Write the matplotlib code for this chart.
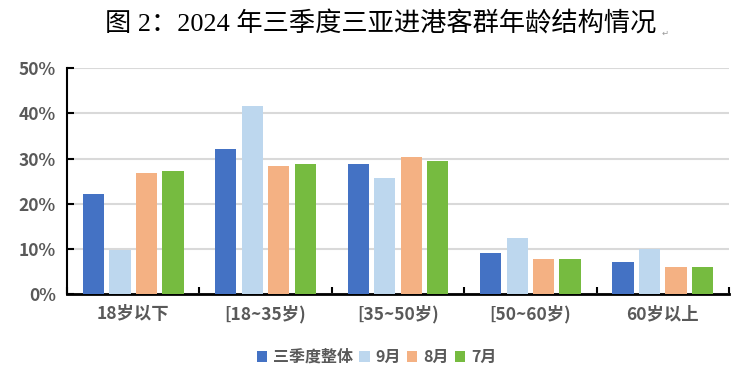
import numpy as np
import matplotlib
matplotlib.use("Agg")
import matplotlib.pyplot as plt
from matplotlib.patches import Patch

plt.rcParams['font.family'] = ['Noto Sans CJK SC', 'DejaVu Sans']

# data (percent)
categories = ["18岁以下", "[18~35岁)", "[35~50岁)", "[50~60岁)", "60岁以上"]
series_names = ["三季度整体", "9月", "8月", "7月"]
q3_total = [22.1, 32.1, 28.8, 9.1, 7.1]
sep = [9.8, 41.6, 25.7, 12.4, 10.0]
aug = [26.8, 28.3, 30.3, 7.8, 6.0]
jul = [27.2, 28.8, 29.4, 7.8, 6.0]
y_ticks = [0, 10, 20, 30, 40, 50]

COLORS = ["#4472C4", "#BDD7EE", "#F4B183", "#76BB40"]
TXT = "#595959"

fig = plt.figure(figsize=(7.53, 3.83), dpi=100)
ax = fig.add_axes([0.089, 0.232, 0.879, 0.590])

x = np.arange(len(categories))
offsets = [-0.3, -0.1, 0.1, 0.3]
for vals, off, col in zip([q3_total, sep, aug, jul], offsets, COLORS):
    ax.bar(x + off, vals, width=0.16, color=col, zorder=3)

ax.set_xlim(-0.5, len(categories) - 0.5)
ax.set_ylim(0, 50)
ax.set_yticks(y_ticks)
ax.set_yticklabels([f"{v}%" for v in y_ticks], fontsize=12.5, fontweight='bold', color=TXT)
ax.yaxis.grid(True, color="#D9D9D9", lw=1.5, zorder=0)
ax.tick_params(axis='y', direction='in', length=5, width=1.5, color='black', pad=8)

ax.set_xticks(x)
ax.set_xticklabels(categories, fontsize=12.5, fontweight='bold', color=TXT)
ax.tick_params(axis='x', length=0, pad=8)
ax.set_xticks(np.arange(-0.5, len(categories)), minor=True)
ax.tick_params(axis='x', which='minor', direction='in', length=5, width=1.5, color='black')

for s in ['top', 'right']:
    ax.spines[s].set_visible(False)
ax.spines['left'].set_linewidth(1.5)
ax.spines['bottom'].set_linewidth(2)

handles = [Patch(facecolor=c, edgecolor='none') for c in COLORS]
fig.legend(handles, series_names, loc='center', bbox_to_anchor=(0.5, 0.068), ncol=4,
           frameon=False, handlelength=0.65, handleheight=0.65, handletextpad=0.35,
           columnspacing=0.4, prop=dict(size=11.5, weight='bold'), labelcolor=TXT)

fig.text(0.505, 0.938, "图 2：2024 年三季度三亚进港客群年龄结构情况", ha='center', va='center',
         fontsize=18.9, fontweight='medium', family=['Liberation Serif', 'Noto Sans CJK SC'],
         color='black')
fig.text(0.878, 0.912, "↵", ha='left', va='center', fontsize=6, color='#999999',
         family=['DejaVu Sans'])

fig.savefig("out.png", dpi=100)
